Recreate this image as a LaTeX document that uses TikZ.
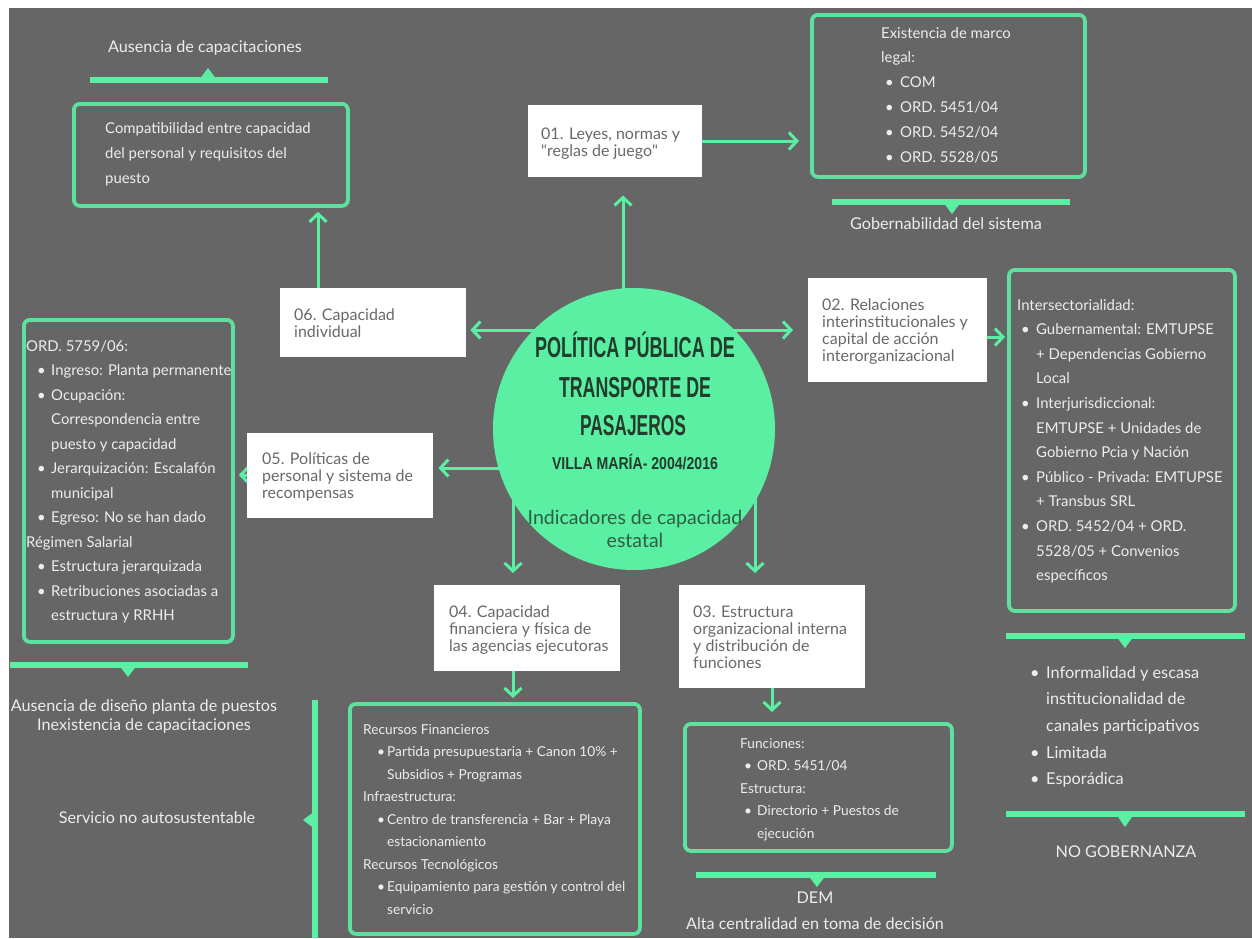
\documentclass[tikz,border=0pt]{standalone}
\usepackage{fontspec}
\usepackage{graphicx}
\setmainfont{Lato}
\newfontfamily\ttlfont{Liberation Sans}
\usetikzlibrary{arrows.meta}
\pgfdeclarelayer{back}
\pgfsetlayers{back,main}
\definecolor{bg}{HTML}{666666}
\definecolor{grn}{HTML}{5AEFA2}
\definecolor{grnline}{HTML}{5EE09E}
\definecolor{ltxt}{HTML}{EDEDED}
\definecolor{graytxt}{HTML}{696969}
\definecolor{ttl}{HTML}{243C2C}
\definecolor{subttl}{HTML}{2F5E43}
\newcommand{\blk}[2]{\vtop{\baselineskip=#1\lineskiplimit=-20pt\lineskip=0pt #2}}
\newcommand{\Lx}[1]{\hbox{#1}}
\newcommand{\Bx}[3]{\hbox{\hspace*{#1}\rlap{\textbullet}\hspace*{#2}#3}}
\newcommand{\Cx}[2]{\hbox{\hspace*{#1}#2}}
\tikzset{
 arr/.style={draw=grn, line width=3pt, -{Straight Barb[length=8pt,width=17pt]}},
 barline/.style={draw=grn, line width=5.5pt},
 gbox/.style={draw=grnline, line width=3.8pt, rounded corners=6pt, inner sep=0pt, anchor=north west},
 wbox/.style={fill=white, inner sep=0pt, anchor=north west},
 wtext/.style={anchor=base west, inner sep=0pt, text=graytxt, font=\fontsize{16}{17}\selectfont},
 gtext/.style={anchor=base west, inner sep=0pt, text=ltxt, font=\fontsize{14.9}{24.6}\selectfont},
 stext/.style={anchor=base west, inner sep=0pt, text=ltxt, font=\fontsize{13.7}{22.5}\selectfont},
 lbl/.style={anchor=base, inner sep=0pt, text=ltxt, font=\fontsize{16.2}{17}\selectfont},
}
\begin{document}
\begin{tikzpicture}[x=1pt,y=-1pt]
\useasboundingbox (0,0) rectangle (1252,938);
\begin{pgfonlayer}{back}
 \fill[white] (0,0) rectangle (1252,938);
 \fill[bg] (9,8) rectangle (1252,938);
\end{pgfonlayer}

% boxes
\node[gbox, minimum width=274pt, minimum height=102pt] (comp) at (72,102) {};
\node[wbox, minimum width=186pt, minimum height=69pt] (b06) at (280,288) {};
\node[wbox, minimum width=174pt, minimum height=72pt] (b01) at (528,105) {};
\node[gbox, minimum width=273pt, minimum height=162pt] (legal) at (810,13) {};
\node[wbox, minimum width=179pt, minimum height=104pt] (b02) at (808,278) {};
\node[gbox, minimum width=226pt, minimum height=341pt] (inter) at (1007,268) {};
\node[wbox, minimum width=186pt, minimum height=85pt] (b05) at (247,433) {};
\node[gbox, minimum width=209pt, minimum height=322pt] (ord) at (22,318) {};
\node[wbox, minimum width=186pt, minimum height=86pt] (b04) at (434,585) {};
\node[gbox, minimum width=290pt, minimum height=230pt] (res) at (348,702) {};
\node[wbox, minimum width=186pt, minimum height=103pt] (b03) at (679,585) {};
\node[gbox, minimum width=267pt, minimum height=127pt] (func) at (683,722) {};
\node[circle, fill=grn, minimum size=282pt, inner sep=0pt] (circ) at (634,429) {};

% connectors (behind circle)
\begin{pgfonlayer}{back}
 \draw[arr] (b06.north -| 318,0) -- ([yshift=-4pt]comp.south -| 318,0);
 \draw[arr] (circ.center |- 0,330) -- ([xshift=4pt]b06.east |- 0,330);
 \draw[arr] (circ.center -| 623,0) -- ([yshift=-18pt]b01.south -| 623,0);
 \draw[arr] (b01.east |- 0,141) -- ([xshift=-11pt]legal.west |- 0,141);
 \draw[arr] (circ.center |- 0,330) -- ([xshift=-15pt]b02.west |- 0,330);
 \draw[arr] (b02.east |- 0,337) -- ([xshift=-2pt]inter.west |- 0,337);
 \draw[arr] (circ.center |- 0,468) -- ([xshift=5pt]b05.east |- 0,468);
 \draw[arr] (b05.west |- 0,475) -- ([xshift=4pt]ord.east |- 0,475);
 \draw[arr] (circ.center -| 513,0) -- ([yshift=12pt]b04.north -| 513,0);
 \draw[arr] (b04.south -| 513,0) -- ([yshift=4pt]res.north -| 513,0);
 \draw[arr] (circ.center -| 755,0) -- ([yshift=12pt]b03.north -| 755,0);
 \draw[arr] (b03.south -| 772,0) -- ([yshift=10pt]func.north -| 772,0);
\end{pgfonlayer}

% bars with pointers
\draw[barline] (90,80) -- (328,80);
\fill[grn] (199,80) -- (217,80) -- (208,68) -- cycle;
\draw[barline] (832,202) -- (1070,202);
\fill[grn] (943,202) -- (961,202) -- (952,214) -- cycle;
\draw[barline] (1006,636) -- (1245,636);
\fill[grn] (1116,636) -- (1134,636) -- (1125,648) -- cycle;
\draw[barline] (1006,814) -- (1245,814);
\fill[grn] (1116,814) -- (1134,814) -- (1125,827) -- cycle;
\draw[barline] (10,665) -- (248,665);
\fill[grn] (119,665) -- (137,665) -- (128,677) -- cycle;
\draw[barline] (696,875) -- (936,875);
\fill[grn] (808,875) -- (826,875) -- (817,887) -- cycle;
\draw[barline] (315,700) -- (315,938);
\fill[grn] (315,811) -- (315,829) -- (303,820) -- cycle;

% circle texts
\node[anchor=base, inner sep=0pt, text=ttl, font=\ttlfont\bfseries\fontsize{28.9}{30}\selectfont] (t1) at (635,357) {\resizebox{200pt}{\height}{POLÍTICA PÚBLICA DE}};
\node[anchor=base, inner sep=0pt, text=ttl, font=\ttlfont\bfseries\fontsize{28.9}{30}\selectfont] (t2) at (635,397) {\resizebox{152pt}{\height}{TRANSPORTE DE}};
\node[anchor=base, inner sep=0pt, text=ttl, font=\ttlfont\bfseries\fontsize{28.9}{30}\selectfont] (t3) at (633,435) {\resizebox{106pt}{\height}{PASAJEROS}};
\node[anchor=base, inner sep=0pt, text=ttl, font=\ttlfont\bfseries\fontsize{17.2}{18}\selectfont] (t4) at (635,469) {\resizebox{166pt}{\height}{VILLA MARÍA- 2004/2016}};
\node[anchor=base, inner sep=0pt, text=subttl, font=\fontsize{19.5}{20}\selectfont] (t5) at (635,524) {Indicadores de capacidad};
\node[anchor=base, inner sep=0pt, text=subttl, font=\fontsize{19.5}{20}\selectfont] (t6) at (635,547) {estatal};

% white box texts
\node[wtext] (x01) at (541,139) {\blk{17.5pt}{\Lx{01. Leyes, normas y}\Lx{\textquotedbl reglas de juego\textquotedbl}}};
\node[wtext] (x06) at (294,320) {\blk{17.5pt}{\Lx{06. Capacidad}\Lx{individual}}};
\node[wtext] (x02) at (822,310) {\blk{17.3pt}{\Lx{02. Relaciones}\Lx{interinstitucionales y}\Lx{capital de acción}\Lx{interorganizacional}}};
\node[wtext] (x05) at (262,464) {\blk{17.3pt}{\Lx{05. Políticas de}\Lx{personal y sistema de}\Lx{recompensas}}};
\node[wtext] (x04) at (449,617) {\blk{17.3pt}{\Lx{04. Capacidad}\Lx{financiera y física de}\Lx{las agencias ejecutoras}}};
\node[wtext] (x03) at (693,617) {\blk{17.2pt}{\Lx{03. Estructura}\Lx{organizacional interna}\Lx{y distribución de}\Lx{funciones}}};

% green box texts
\node[gtext] (xcomp) at (105,133) {\blk{25pt}{\Lx{Compatibilidad entre capacidad}\Lx{del personal y requisitos del}\Lx{puesto}}};
\node[gtext] (xlegal) at (881,38) {\blk{24.8pt}{\Lx{Existencia de marco}\Lx{legal:}\Bx{4pt}{15pt}{COM}\Bx{4pt}{15pt}{ORD. 5451/04}\Bx{4pt}{15pt}{ORD. 5452/04}\Bx{4pt}{15pt}{ORD. 5528/05}}};
\node[gtext] (xinter) at (1017,310) {\blk{24.6pt}{\Lx{Intersectorialidad:}\Bx{4pt}{15pt}{Gubernamental: EMTUPSE}\Cx{19pt}{+ Dependencias Gobierno}\Cx{19pt}{Local}\Bx{4pt}{15pt}{Interjurisdiccional:}\Cx{19pt}{EMTUPSE + Unidades de}\Cx{19pt}{Gobierno Pcia y Nación}\Bx{4pt}{15pt}{Público - Privada: EMTUPSE}\Cx{19pt}{+ Transbus SRL}\Bx{4pt}{15pt}{ORD. 5452/04 + ORD.}\Cx{19pt}{5528/05 + Convenios}\Cx{19pt}{específicos}}};
\node[gtext] (xord) at (26,351) {\blk{24.5pt}{\Lx{ORD. 5759/06:}\Bx{11pt}{14pt}{Ingreso: Planta permanente}\Bx{11pt}{14pt}{Ocupación:}\Cx{25pt}{Correspondencia entre}\Cx{25pt}{puesto y capacidad}\Bx{11pt}{14pt}{Jerarquización: Escalafón}\Cx{25pt}{municipal}\Bx{11pt}{14pt}{Egreso: No se han dado}\Lx{Régimen Salarial}\Bx{11pt}{14pt}{Estructura jerarquizada}\Bx{11pt}{14pt}{Retribuciones asociadas a}\Cx{25pt}{estructura y RRHH}}};
\node[stext] (xres) at (363,734) {\blk{22.5pt}{\Lx{Recursos Financieros}\Bx{14pt}{10pt}{Partida presupuestaria + Canon 10\% +}\Cx{24pt}{Subsidios + Programas}\Lx{Infraestructura:}\Bx{14pt}{10pt}{Centro de transferencia + Bar + Playa}\Cx{24pt}{estacionamiento}\Lx{Recursos Tecnológicos}\Bx{14pt}{10pt}{Equipamiento para gestión y control del}\Cx{24pt}{servicio}}};
\node[stext] (xfunc) at (740,748) {\blk{22.5pt}{\Lx{Funciones:}\Bx{4pt}{13pt}{ORD. 5451/04}\Lx{Estructura:}\Bx{4pt}{13pt}{Directorio + Puestos de}\Cx{17pt}{ejecución}}};
\node[anchor=base west, inner sep=0pt, text=ltxt, font=\fontsize{16.3}{26.7}\selectfont] (xinf) at (1030,678) {\blk{26.7pt}{\Bx{0pt}{16pt}{Informalidad y escasa}\Cx{16pt}{institucionalidad de}\Cx{16pt}{canales participativos}\Bx{0pt}{16pt}{Limitada}\Bx{0pt}{16pt}{Esporádica}}};

% labels
\node[lbl] (laus) at (205,52) {Ausencia de capacitaciones};
\node[lbl] (lgob) at (946,229) {Gobernabilidad del sistema};
\node[lbl] (lausd) at (144,711) {Ausencia de diseño planta de puestos};
\node[lbl] (linex) at (144,730) {Inexistencia de capacitaciones};
\node[lbl] (lserv) at (157,823) {Servicio no autosustentable};
\node[lbl] (lnogob) at (1126,857) {NO GOBERNANZA};
\node[lbl] (ldem) at (815,903) {DEM};
\node[lbl] (lalta) at (815,929) {Alta centralidad en toma de decisión};
\end{tikzpicture}
\end{document}
